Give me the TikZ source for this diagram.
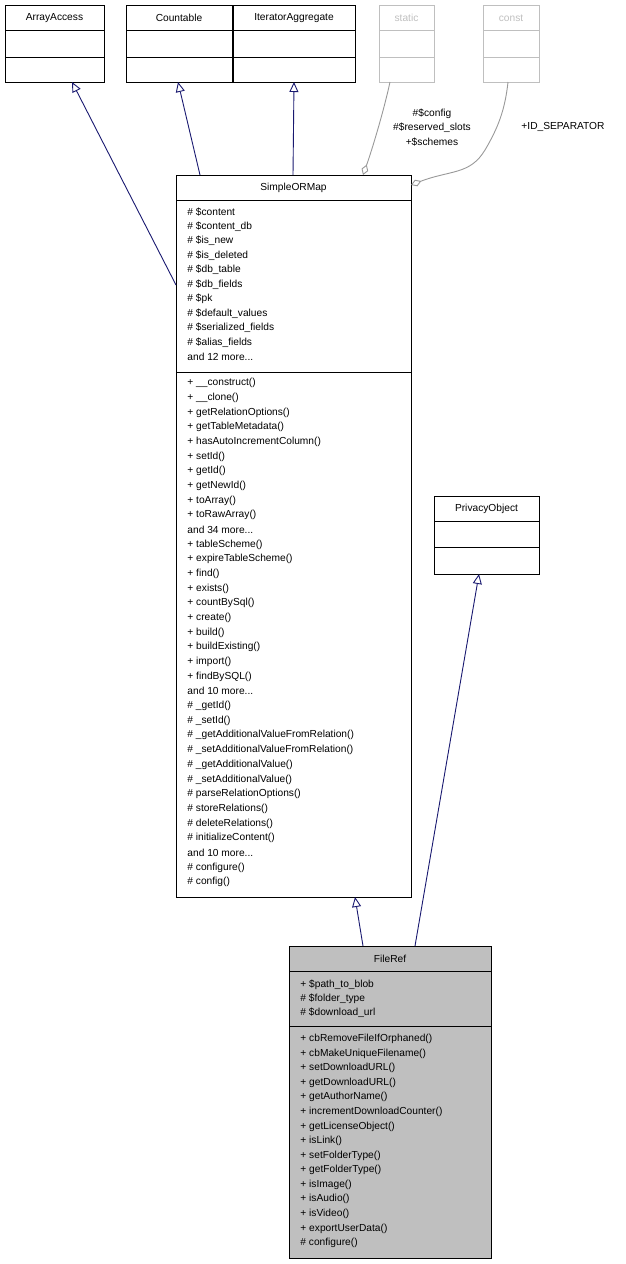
\documentclass[tikz,border=0pt]{standalone}
\usepackage{fontspec}
\setmainfont{Liberation Sans}
\usetikzlibrary{arrows.meta}
\definecolor{nav}{HTML}{191970}
\definecolor{gr}{HTML}{BFBFBF}
\definecolor{lg}{HTML}{BFBFBF}
\newcommand{\mdots}{.\kern0pt.\kern0pt.}
\begin{document}
\begin{tikzpicture}[x=1pt,y=-1pt,line width=0.9pt,
  txt/.style={anchor=west,inner sep=0pt,font=\fontsize{10.2}{11}\selectfont},
  ttl/.style={anchor=center,inner sep=0pt,font=\fontsize{10.2}{11}\selectfont},
  inh/.style={draw=nav,-{Triangle[open,length=10pt,width=9pt]}},
  agg/.style={draw=gray!80,{Diamond[open,length=11pt,width=7pt]}-}]
\useasboundingbox (0,0) rectangle (626,1264);
% simple boxes
\foreach \n/\a/\b/\t/\c in {aa/5/104/ArrayAccess/black,co/126/232/Countable/black,it/233/355/IteratorAggregate/black,st/379/434/static/lg,cs/483/539/const/lg}{
  \draw[draw=\c] (\a,5) rectangle (\b,82);
  \draw[draw=\c] (\a,30) -- (\b,30) (\a,57) -- (\b,57);
  \node[ttl,text=\c] (\n) at ({(\a+\b)/2},18) {\t};
  \coordinate (\n b) at ({(\a+\b)/2},82);
}
% PrivacyObject
\draw (434,496) rectangle (539,574);
\draw (434,521) -- (539,521) (434,547) -- (539,547);
\node[ttl] (po) at (486.5,509) {PrivacyObject};
% SimpleORMap
\draw (176,175) rectangle (411,897);
\draw (176,200) -- (411,200) (176,372) -- (411,372);
\node[ttl] (som) at (293.5,188) {SimpleORMap};
\foreach \s [count=\i from 0] in {\# \$content,\# \$content\_db,\# \$is\_new,\# \$is\_deleted,\# \$db\_table,\# \$db\_fields,\# \$pk,\# \$default\_values,\# \$serialized\_fields,\# \$alias\_fields,{and 12 more\mdots}}
  \node[txt] (sa\i) at (187,{212+14.5*\i}) {\s};
\foreach \s [count=\i from 0] in {+ \_\_construct(),+ \_\_clone(),+ getRelationOptions(),+ getTableMetadata(),+ hasAutoIncrementColumn(),+ setId(),+ getId(),+ getNewId(),+ toArray(),+ toRawArray(),{and 34 more\mdots},+ tableScheme(),+ expireTableScheme(),+ find(),+ exists(),+ countBySql(),+ create(),+ build(),+ buildExisting(),+ import(),+ findBySQL(),{and 10 more\mdots},\# \_getId(),\# \_setId(),\# \_getAdditionalValueFromRelation(),\# \_setAdditionalValueFromRelation(),\# \_getAdditionalValue(),\# \_setAdditionalValue(),\# parseRelationOptions(),\# storeRelations(),\# deleteRelations(),\# initializeContent(),{and 10 more\mdots},\# configure(),\# config()}
  \node[txt] (sm\i) at (187,{383+14.68*\i}) {\s};
% FileRef
\draw[fill=gr] (289,946) rectangle (491,1258);
\draw (289,971) -- (491,971) (289,1026) -- (491,1026);
\node[ttl] (fr) at (390,959) {FileRef};
\foreach \s [count=\i from 0] in {+ \$path\_to\_blob,\# \$folder\_type,\# \$download\_url}
  \node[txt] (fa\i) at (300,{985+14*\i}) {\s};
\foreach \s [count=\i from 0] in {+ cbRemoveFileIfOrphaned(),+ cbMakeUniqueFilename(),+ setDownloadURL(),+ getDownloadURL(),+ getAuthorName(),+ incrementDownloadCounter(),+ getLicenseObject(),+ isLink(),+ setFolderType(),+ getFolderType(),+ isImage(),+ isAudio(),+ isVideo(),+ exportUserData(),\# configure()}
  \node[txt] (fm\i) at (300,{1039+14.57*\i}) {\s};
% connectors
\coordinate (s1) at (176,285); \coordinate (aab2) at (72,82);
\draw[inh] (s1) -- (aab2);
\coordinate (s2) at (200,175); \coordinate (cob2) at (178,82);
\draw[inh] (s2) -- (cob2);
\coordinate (s3) at (293,175);
\draw[inh] (s3) -- (itb);
\coordinate (f1) at (415,946); \coordinate (pob) at (479,574);
\draw[inh] (f1) -- (pob);
\coordinate (f2) at (363,946); \coordinate (smb) at (355,897);
\draw[inh] (f2) -- (smb);
\coordinate (d1) at (363,175); \coordinate (stb2) at (390,82);
\draw[agg] (d1) .. controls (372,150) and (384,110) .. (stb2);
\coordinate (d2) at (411,185); \coordinate (csb2) at (508,82);
\draw[agg] (d2) .. controls (450,170) and (470,175) .. (485,150) .. controls (498,128) and (505,110) .. (csb2);
\node[ttl,align=center,font=\fontsize{10.2}{14.5}\selectfont] (lab1) at (432,127.5) {\#\$config\\\#\$reserved\_slots\\+\$schemes};
\node[ttl] (lab2) at (563,127) {+ID\_SEPARATOR};
\end{tikzpicture}
\end{document}
